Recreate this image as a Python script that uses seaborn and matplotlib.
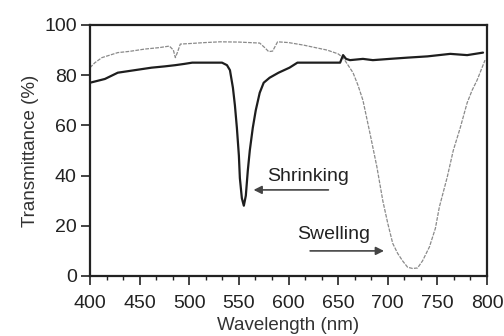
import matplotlib
matplotlib.use("Agg")
import matplotlib.pyplot as plt
import seaborn as sns
import pandas as pd
from matplotlib.ticker import AutoMinorLocator

shrink_wl = [400, 405, 415, 428, 445, 462, 475, 486, 495, 503, 515, 533, 538, 541, 544, 546,
             548, 550, 551, 553, 555, 557, 559, 561, 564, 567, 571, 575, 581, 590, 601, 609,
             620, 640, 652, 655, 658, 662, 675, 685, 702, 720, 740, 763, 780, 796]
shrink_t = [77, 77.5, 78.5, 81, 82, 83, 83.5, 84, 84.5, 85, 85, 85, 84, 82, 75, 68,
            59, 48, 39, 31, 28, 32, 42, 50, 59, 66, 73, 77, 79, 81, 83, 85,
            85, 85, 85, 88, 86.5, 86, 86.5, 86, 86.5, 87, 87.5, 88.5, 88, 89]

swell_wl = [400, 405, 412, 428, 440, 455, 470, 480, 484, 486, 488, 491, 500, 516, 531, 550,
            571, 576, 580, 584, 589, 600, 615, 627, 639, 650, 655, 660, 665, 670, 675, 682,
            689, 695, 700, 705, 710, 715, 720, 725, 730, 735, 742, 748, 752, 760, 766, 773,
            780, 785, 790, 795, 798]
swell_t = [83, 85, 87, 89, 89.5, 90.4, 91, 91.6, 90, 87, 89, 92.4, 92.6, 93, 93.3, 93.2,
           92.8, 91, 89.4, 89.6, 93.3, 93, 92, 91, 90, 88.5, 87, 84, 81, 76, 70, 57,
           43.6, 30, 21, 13, 9, 6, 3.5, 3, 3.2, 6, 11.6, 19, 27.5, 39.5, 50, 59,
           69, 74, 78, 83, 86]

x_ticks = [400, 450, 500, 550, 600, 650, 700, 750, 800]
y_ticks = [0, 20, 40, 60, 80, 100]

sns.set_theme(style="ticks")
plt.rcParams['font.family'] = ['Liberation Sans', 'DejaVu Sans']

fig = plt.figure(figsize=(5.04, 3.36), dpi=100)
ax = fig.add_axes([90/504, 1-276/336, (487-90)/504, (276-25)/336])

df_s = pd.DataFrame({"wl": shrink_wl, "t": shrink_t})
df_w = pd.DataFrame({"wl": swell_wl, "t": swell_t})
sns.lineplot(data=df_w, x="wl", y="t", ax=ax, color="#8a8a8a", linewidth=0.9, linestyle=(0, (3, 1)))
sns.lineplot(data=df_s, x="wl", y="t", ax=ax, color="#1e1e1e", linewidth=1.6)

ax.set_xlim(400, 800)
ax.set_ylim(0, 100)
ax.set_xticks(x_ticks)
ax.set_yticks(y_ticks)
ax.xaxis.set_minor_locator(AutoMinorLocator(3))
for s in ax.spines.values():
    s.set_visible(True)
    s.set_linewidth(1.6)
    s.set_color("#222222")
ax.tick_params(axis="both", which="major", direction="out", length=6.5, width=1.2,
               labelsize=14, colors="#222222", pad=3)
ax.tick_params(axis="x", which="major", pad=7)
ax.tick_params(axis="x", which="minor", direction="out", length=3, width=1.0, color="#222222")
ax.set_xlabel("Wavelength (nm)", fontsize=13.5, color="#333333", labelpad=4)
ax.set_ylabel("Transmittance (%)", fontsize=13.5, color="#333333", labelpad=4)

ax.text(620, 39.5, "Shrinking", fontsize=14, ha="center", va="center", color="#222222")
ax.annotate("", xy=(562, 34.3), xytext=(643, 34.3),
            arrowprops=dict(arrowstyle="-|>", color="#444444", lw=1.2, mutation_scale=12))
ax.text(645, 16.7, "Swelling", fontsize=14, ha="center", va="center", color="#222222")
ax.annotate("", xy=(699, 10), xytext=(619, 10),
            arrowprops=dict(arrowstyle="-|>", color="#444444", lw=1.2, mutation_scale=12))

fig.savefig("out.png", dpi=100)
